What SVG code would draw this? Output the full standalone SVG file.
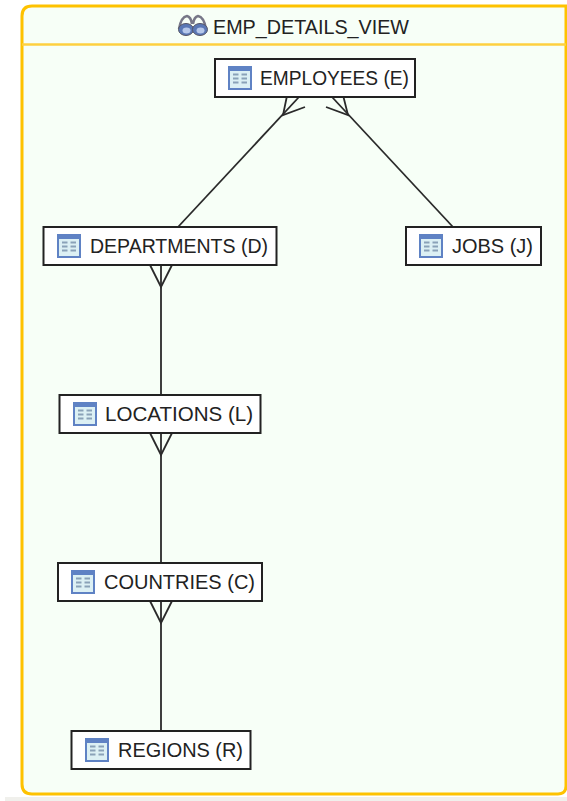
<svg xmlns="http://www.w3.org/2000/svg" width="567" height="801" viewBox="0 0 567 801">
<style>
.n{fill:#fff;stroke:#222;stroke-width:2}
.t{font-family:"Liberation Sans",Arial,sans-serif;font-size:19.5px;fill:#222}
.c{fill:none;stroke:#2a2a2a;stroke-width:1.8}
</style>
<defs>
<g id="tbl">
<rect x="0.5" y="0.5" width="23" height="23" fill="#5f82c4" stroke="#5f82c4"/>
<rect x="2" y="2" width="20" height="20" fill="#dcf0f4"/>
<rect x="2" y="2" width="20" height="3" fill="#5f82c4"/>
<path d="M5 8.500h5.500M13.500 8.500h5.500M5 12.500h5.500M13.500 12.500h5.500M5 16.500h5.500M13.500 16.500h5.500" stroke="#8aa2b8" stroke-width="2" fill="none"/>
</g>
</defs>
<rect width="567" height="801" fill="#fff"/>
<rect x="5" y="797" width="562" height="4" fill="#f0f0ec"/>
<g id="frame">
<path d="M32 6H566V786Q566 794 558 794H32Q22 794 22 784V16Q22 6 32 6Z" fill="#f7fff7" stroke="#fec200" stroke-width="3"/>
<path d="M22 44.500H566" stroke="#fed040" stroke-width="2.500" fill="none"/>
<g id="icon-view">
<path d="M179 29Q181 17 187 16Q191 17 192 24M206 29Q204 17 198 16Q194 17 193 24" stroke="#778" stroke-width="2.500" fill="none"/>
<ellipse cx="186" cy="29.500" rx="7.500" ry="6" fill="#5a78b5" stroke="#556"/>
<ellipse cx="200" cy="29.500" rx="7.500" ry="6" fill="#5a78b5" stroke="#556"/>
<ellipse cx="186.500" cy="30.500" rx="4" ry="3" fill="#b6c8ea"/>
<ellipse cx="200.500" cy="30.500" rx="4" ry="3" fill="#b6c8ea"/>
</g>
<text class="t" x="213" y="34" textLength="196" lengthAdjust="spacingAndGlyphs">EMP_DETAILS_VIEW</text>
</g>
<g id="connectors">
<path class="c" d="M178 227L299 97"/>
<path class="c" d="M288 91L283 115L305 107"/>
<path class="c" d="M453 227L332 97"/>
<path class="c" d="M342 91L348 115L326 107"/>
<path class="c" d="M161 265V395"/>
<path class="c" d="M150 265L161 287L172 265"/>
<path class="c" d="M161 433V563"/>
<path class="c" d="M150 433L161 455L172 433"/>
<path class="c" d="M161 601V731"/>
<path class="c" d="M150 601L161 623L172 601"/>
</g>
<g id="employees"><rect class="n" x="215" y="59" width="200" height="38"/><use href="#tbl" x="228" y="66"/><text class="t" x="260" y="85" textLength="149" lengthAdjust="spacingAndGlyphs">EMPLOYEES (E)</text></g>
<g id="departments"><rect class="n" x="43.500" y="227" width="233" height="38"/><use href="#tbl" x="57" y="234"/><text class="t" x="90" y="253" textLength="178" lengthAdjust="spacingAndGlyphs">DEPARTMENTS (D)</text></g>
<g id="jobs"><rect class="n" x="406" y="227" width="135" height="38"/><use href="#tbl" x="419" y="234"/><text class="t" x="452" y="253" textLength="81" lengthAdjust="spacingAndGlyphs">JOBS (J)</text></g>
<g id="locations"><rect class="n" x="59.500" y="395" width="201" height="38"/><use href="#tbl" x="73" y="402"/><text class="t" x="105" y="421" textLength="148" lengthAdjust="spacingAndGlyphs">LOCATIONS (L)</text></g>
<g id="countries"><rect class="n" x="58" y="563" width="204" height="38"/><use href="#tbl" x="71" y="570"/><text class="t" x="104" y="589" textLength="151" lengthAdjust="spacingAndGlyphs">COUNTRIES (C)</text></g>
<g id="regions"><rect class="n" x="71.500" y="731" width="179" height="38"/><use href="#tbl" x="85" y="738"/><text class="t" x="118" y="757" textLength="125" lengthAdjust="spacingAndGlyphs">REGIONS (R)</text></g>
</svg>
